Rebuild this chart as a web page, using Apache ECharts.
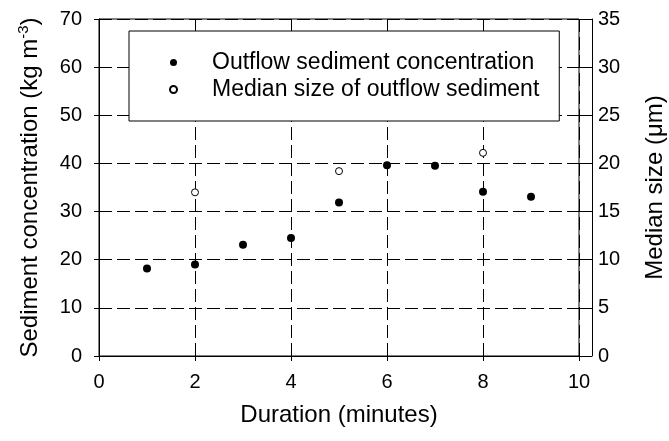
<!DOCTYPE html>
<html>
<head>
<meta charset="utf-8">
<script src="https://cdn.jsdelivr.net/npm/echarts@6/dist/echarts.min.js"></script>
<style>html,body{margin:0;padding:0;background:#fff;}#c{width:669px;height:441px;}</style>
</head>
<body>
<div id="c"></div>
<script>
var concX = [1, 2, 3, 4, 5, 6, 7, 8, 9];
var concY = [18.2, 19.0, 23.1, 24.5, 31.9, 39.6, 39.5, 34.1, 33.1];
var sizeX = [2, 5, 8];
var sizeY = [17.0, 19.2, 21.1];
var xTicks = {min: 0, max: 10, interval: 2};
var leftTicks = {min: 0, max: 70, interval: 10};
var rightTicks = {min: 0, max: 35, interval: 5};
var seriesNames = ['Outflow sediment concentration', 'Median size of outflow sediment'];

var FONT = 'Liberation Sans, Arial, sans-serif';
var chart = echarts.init(document.getElementById('c'), null, {renderer: 'canvas'});
var dash = [13, 5];
chart.setOption({
  animation: false,
  backgroundColor: '#fff',
  textStyle: {fontFamily: FONT, color: '#000'},
  grid: {left: 99, right: 90, top: 19, bottom: 85, show: true, borderColor: '#000', borderWidth: 1,
    backgroundColor: 'transparent', containLabel: false, outerBoundsMode: 'none'},
  legend: {
    data: seriesNames,
    orient: 'vertical',
    left: 129, top: 31,
    padding: [20, 20, 20, 40],
    itemWidth: 7, itemHeight: 7, itemGap: 4,
    backgroundColor: '#fff', borderColor: '#000', borderWidth: 1,
    textStyle: {fontFamily: FONT, fontSize: 23, color: '#000', lineHeight: 22, width: 318, padding: [0, 0, 0, 30]}
  },
  xAxis: {
    type: 'value', min: xTicks.min, max: xTicks.max, interval: xTicks.interval,
    name: 'Duration (minutes)', nameLocation: 'middle', nameGap: 47,
    nameTextStyle: {fontSize: 24, fontFamily: FONT, color: '#000'},
    axisLine: {show: true, lineStyle: {color: '#000', width: 1}},
    axisTick: {show: true, inside: false, length: 5, lineStyle: {color: '#000'}},
    axisLabel: {fontSize: 20, fontFamily: FONT, color: '#000', margin: 16},
    splitLine: {show: true, lineStyle: {color: '#000', type: dash, width: 1}}
  },
  yAxis: [{
    type: 'value', position: 'left', min: leftTicks.min, max: leftTicks.max, interval: leftTicks.interval,
    name: 'Sediment concentration (kg m{sup|-3})', nameLocation: 'middle', nameGap: 55, nameRotate: 90,
    nameTextStyle: {fontSize: 24, fontFamily: FONT, color: '#000', lineHeight: 28,
      rich: {sup: {fontSize: 15, fontFamily: FONT, color: '#000', verticalAlign: 'top', lineHeight: 15}}},
    axisLine: {show: true, lineStyle: {color: '#000', width: 1}},
    axisTick: {show: true, inside: false, length: 5, lineStyle: {color: '#000'}},
    axisLabel: {fontSize: 20, fontFamily: FONT, color: '#000', margin: 17},
    splitLine: {show: true, lineStyle: {color: '#000', type: dash, width: 1}}
  }, {
    type: 'value', position: 'right', offset: 13, min: rightTicks.min, max: rightTicks.max, interval: rightTicks.interval,
    name: 'Median size (μm)', nameLocation: 'middle', nameGap: 51, nameRotate: 90,
    nameTextStyle: {fontSize: 24, fontFamily: FONT, color: '#000'},
    axisLine: {show: true, lineStyle: {color: '#000', width: 1}},
    axisTick: {show: true, inside: true, length: 12, lineStyle: {color: '#000'}},
    axisLabel: {fontSize: 20, fontFamily: FONT, color: '#000', margin: 6},
    splitLine: {show: false}
  }],
  series: [{
    name: seriesNames[0], type: 'scatter', yAxisIndex: 0,
    symbol: 'circle', symbolSize: 8,
    itemStyle: {color: '#000', borderColor: '#000', borderWidth: 0, opacity: 1},
    data: concX.map(function (x, i) { return [x, concY[i]]; })
  }, {
    name: seriesNames[1], type: 'scatter', yAxisIndex: 1,
    symbol: 'circle', symbolSize: 7,
    itemStyle: {color: '#fff', borderColor: '#000', borderWidth: 1, opacity: 1},
    data: sizeX.map(function (x, i) { return [x, sizeY[i]]; })
  }]
});
</script>
</body>
</html>
